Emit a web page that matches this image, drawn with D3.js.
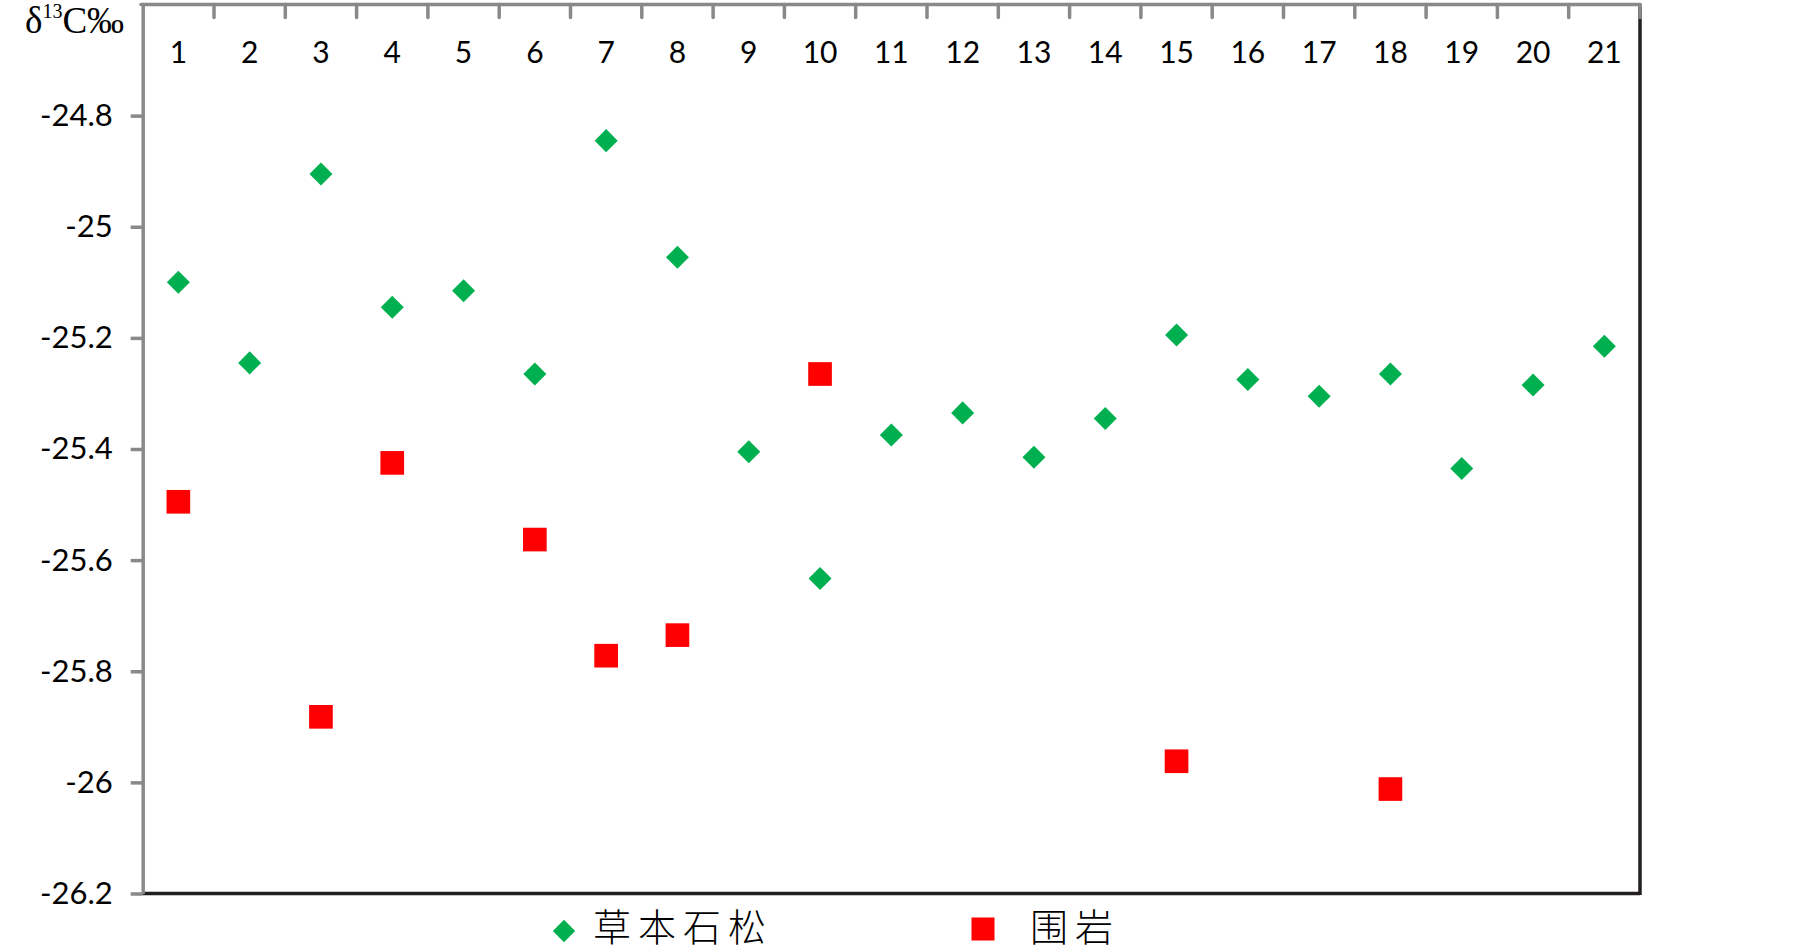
<!DOCTYPE html>
<html>
<head>
<meta charset="utf-8">
<script src="https://cdn.jsdelivr.net/npm/d3@7"></script>
<style>
  html, body { margin: 0; padding: 0; background: #fff; }
  svg { display: block; }
</style>
</head>
<body>
<div id="chart"></div>
<script>
// sample numbers along the top axis
var categories = d3.range(1, 22);

var herbValues = [-25.10, -25.245, -24.905, -25.145, -25.115, -25.265, -24.845, -25.055, -25.405, -25.633,
                  -25.375, -25.335, -25.415, -25.345, -25.195, -25.275, -25.305, -25.265, -25.435, -25.285, -25.215];
var rockValues = [-25.495, null, -25.882, -25.425, null, -25.563, -25.772, -25.735, null, -25.265,
                  null, null, null, null, -25.962, null, null, -26.012, null, null, null];

var yTicks = [-24.8, -25, -25.2, -25.4, -25.6, -25.8, -26, -26.2];
var yTickLabels = ['-24.8', '-25', '-25.2', '-25.4', '-25.6', '-25.8', '-26', '-26.2'];

var seriesNames = ['草本石松', '围岩'];

var width = 1805, height = 952;
var plot = { left: 142.7, right: 1640, top: 4.5, bottom: 893.5 };
var axisGrey = '#898989', frameBlack = '#231f20';
var green = '#00b050', red = '#ff0000';

var svg = d3.select('#chart').append('svg')
    .attr('width', width)
    .attr('height', height);

var x = d3.scaleBand()
    .domain(categories)
    .range([plot.left, plot.right])
    .padding(0);

var y = d3.scaleLinear()
    .domain([-26.2, -24.6])
    .range([plot.bottom, plot.top]);

// black frame on right and bottom
svg.append('line')
    .attr('x1', plot.left).attr('x2', plot.right)
    .attr('y1', plot.bottom).attr('y2', plot.bottom)
    .attr('stroke', frameBlack).attr('stroke-width', 3.5);
svg.append('line')
    .attr('x1', plot.right).attr('x2', plot.right)
    .attr('y1', plot.top + 2).attr('y2', plot.bottom + 1.5)
    .attr('stroke', frameBlack).attr('stroke-width', 3.5);

// left value axis
var yAxis = d3.axisLeft(y)
    .tickValues(yTicks)
    .tickFormat(function(d, i) { return yTickLabels[i]; })
    .tickSize(12)
    .tickSizeOuter(0)
    .tickPadding(18);

var yAxisG = svg.append('g')
    .attr('transform', 'translate(' + plot.left + ',0)')
    .call(yAxis);
yAxisG.select('.domain')
    .attr('stroke', axisGrey).attr('stroke-width', 3.5);
yAxisG.selectAll('.tick line')
    .attr('stroke', axisGrey).attr('stroke-width', 3.5);
yAxisG.selectAll('.tick text')
    .attr('fill', '#000')
    .style('font-family', 'Lato, "Open Sans", sans-serif')
    .style('font-size', '31px');

// top category axis, ticks between categories pointing down
svg.append('line')
    .attr('x1', plot.left - 1.7).attr('x2', plot.right)
    .attr('y1', plot.top).attr('y2', plot.top)
    .attr('stroke', axisGrey).attr('stroke-width', 3.5)
    .attr('stroke-linecap', 'round');

svg.selectAll('.x-tick')
    .data(categories).enter()
    .append('line')
    .attr('class', 'x-tick')
    .attr('x1', function(d) { return x(d) + x.step(); })
    .attr('x2', function(d) { return x(d) + x.step(); })
    .attr('y1', plot.top)
    .attr('y2', plot.top + 13)
    .attr('stroke', axisGrey)
    .attr('stroke-width', 3.5)
    .attr('stroke-linecap', 'round');

svg.selectAll('.x-label')
    .data(categories).enter()
    .append('text')
    .attr('class', 'x-label')
    .attr('x', function(d) { return x(d) + x.bandwidth() / 2; })
    .attr('y', 63)
    .attr('text-anchor', 'middle')
    .style('font-family', 'Lato, "Open Sans", sans-serif')
    .style('font-size', '30px')
    .text(function(d) { return d; });

// unit label in the corner
var title = svg.append('text')
    .attr('x', 25)
    .attr('y', 33)
    .style('font-family', '"Liberation Serif", "DejaVu Serif", serif')
    .style('font-size', '37px');
title.append('tspan').text('δ');
title.append('tspan').attr('dy', -15).style('font-size', '20px').text('13');
title.append('tspan').attr('dy', 15).text('C‰');

// markers
var diamond = d3.symbol().type(d3.symbolSquare).size(265);
var square = d3.symbol().type(d3.symbolSquare).size(560);

var herbPoints = categories.map(function(c, i) { return { cat: c, value: herbValues[i] }; })
    .filter(function(p) { return p.value !== null; });
var rockPoints = categories.map(function(c, i) { return { cat: c, value: rockValues[i] }; })
    .filter(function(p) { return p.value !== null; });

svg.selectAll('.rock')
    .data(rockPoints).enter()
    .append('path')
    .attr('class', 'rock')
    .attr('d', square)
    .attr('fill', red)
    .attr('transform', function(p) {
        return 'translate(' + (x(p.cat) + x.bandwidth() / 2) + ',' + y(p.value) + ')';
    });

svg.selectAll('.herb')
    .data(herbPoints).enter()
    .append('path')
    .attr('class', 'herb')
    .attr('d', diamond)
    .attr('fill', green)
    .attr('transform', function(p) {
        return 'translate(' + (x(p.cat) + x.bandwidth() / 2) + ',' + y(p.value) + ') rotate(45)';
    });

// legend below the plot
var legend = [
    { name: seriesNames[0], symbol: d3.symbol().type(d3.symbolSquare).size(250), color: green, rot: 45, sx: 564, sy: 931, tx: 593 },
    { name: seriesNames[1], symbol: d3.symbol().type(d3.symbolSquare).size(530), color: red, rot: 0, sx: 983, sy: 929, tx: 1030 }
];

var legendItems = svg.selectAll('.legend')
    .data(legend).enter()
    .append('g')
    .attr('class', 'legend');

legendItems.append('path')
    .attr('d', function(l) { return l.symbol(); })
    .attr('fill', function(l) { return l.color; })
    .attr('transform', function(l) {
        return 'translate(' + l.sx + ',' + l.sy + ') rotate(' + l.rot + ')';
    });

legendItems.append('text')
    .attr('x', function(l) { return l.tx; })
    .attr('y', 941)
    .style('font-family', '"Noto Sans CJK SC", sans-serif')
    .style('font-weight', 300)
    .style('font-size', '38px')
    .style('letter-spacing', '7px')
    .text(function(l) { return l.name; });
</script>
</body>
</html>
